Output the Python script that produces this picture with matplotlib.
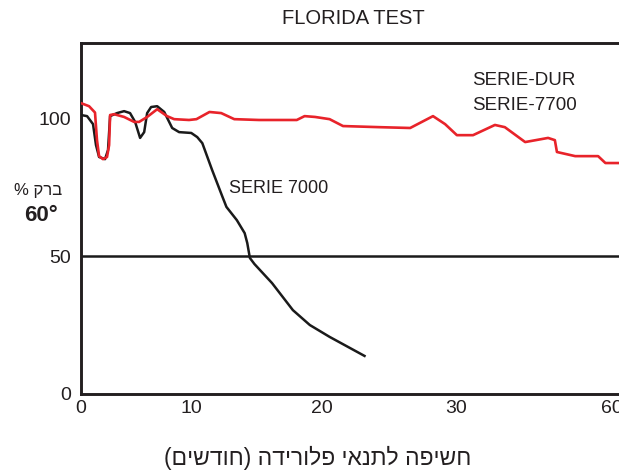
"""
FLORIDA TEST - gloss retention (60°) vs. months of Florida exposure
"""

import numpy as np
import matplotlib
matplotlib.use('Agg')
import matplotlib.pyplot as plt

matplotlib.rcParams['font.family'] = ['Liberation Sans', 'DejaVu Sans']

# x axis of the original is not linear: knots (months) -> drawn position
X_KNOTS = [0, 10, 20, 30, 60, 90]
X_POS = [0, 110, 240, 374, 530, 686]

x_ticks = [0, 10, 20, 30, 60]
y_ticks = [0, 50, 100]

# SERIE-DUR / SERIE-7700 (red)
dur_months = [0, 0.73, 1.27, 1.45, 1.64, 2.0, 2.36, 2.55, 2.64, 3.0, 3.91, 4.82, 5.27,
              6.0, 6.91, 7.8, 8.45, 9.8, 10.4, 11.4, 12.3, 13.3, 15.2, 18.1, 18.7,
              19.5, 20.6, 21.6, 24.3, 26.6, 28.3, 29.2, 30.2, 33.3, 37.5, 39.4, 43.3,
              47.7, 49.0, 49.4, 52.9, 57.3, 58.7, 61.5]
dur_gloss = [105.4, 104.3, 102.0, 92.0, 86.2, 85.1, 85.9, 90.2, 101.1, 101.4, 100.4,
             98.6, 98.6, 100.4, 103.2, 100.7, 99.6, 99.3, 99.6, 102.2, 101.8, 99.6,
             99.3, 99.3, 100.7, 100.4, 99.6, 97.1, 96.7, 96.4, 100.7, 97.8, 93.8, 93.8,
             97.5, 96.7, 91.3, 92.8, 92.0, 87.7, 86.2, 86.2, 83.7, 83.7]

# SERIE 7000 (black)
s7000_months = [0, 0.55, 1.09, 1.36, 1.64, 2.18, 2.45, 2.64, 3.27, 3.91, 4.45, 4.91,
                5.36, 5.73, 6.0, 6.36, 6.91, 7.55, 8.27, 8.9, 10.0, 10.46, 10.85, 11.6,
                12.4, 12.7, 13.5, 14.1, 14.3, 14.5, 14.85, 16.2, 17.8, 19.1, 20.6, 23.2]
s7000_gloss = [101.1, 100.7, 97.8, 90.2, 85.9, 85.1, 88.4, 100.7, 101.8, 102.5, 101.8,
               98.6, 92.8, 94.9, 101.8, 104.0, 104.3, 102.2, 96.4, 94.9, 94.6, 93.1,
               90.9, 81.2, 71.4, 67.8, 63.0, 58.3, 54.7, 49.3, 47.1, 40.2, 30.4, 25.0,
               20.7, 13.8]

# matplotlib draws glyphs left to right, so hebrew goes in visual order
Y_LABEL = '% ' + 'ברק'[::-1]
X_LABEL = 'חשיפה לתנאי פלורידה (חודשים)'[::-1].translate(str.maketrans('()', ')('))


def fwd(x):
    return np.interp(x, X_KNOTS, X_POS)


def inv(p):
    return np.interp(p, X_POS, X_KNOTS)


fig = plt.figure(figsize=(6.19, 4.75), dpi=100)
ax = fig.add_axes([81 / 619, 81 / 475, 539 / 619, 351 / 475])

ax.set_xscale('function', functions=(fwd, inv))
ax.set_xlim(0, 61.5)
ax.set_ylim(0, 127.2)

ax.axhline(50, color='#1a1a1a', linewidth=1.8, zorder=2)

ax.plot(s7000_months, s7000_gloss, color='#1a1a1a', linewidth=1.8, zorder=3,
        solid_joinstyle='round')
ax.plot(dur_months, dur_gloss, color='#e8232a', linewidth=1.9, zorder=4,
        solid_joinstyle='round')

ax.set_xticks(x_ticks)
ax.set_xticklabels([str(t) for t in x_ticks])
ax.set_yticks(y_ticks)
ax.set_yticklabels([str(t) for t in y_ticks])
ax.minorticks_off()
ax.tick_params(axis='both', length=0, labelsize=14, colors='#231f20')
ax.tick_params(axis='x', pad=4)
ax.tick_params(axis='y', pad=7)

for side in ['left', 'top', 'bottom']:
    ax.spines[side].set_linewidth(2.1)
    ax.spines[side].set_color('#231f20')
ax.spines['right'].set_visible(False)

fig.text(353 / 619, 1 - 18 / 475, 'FLORIDA TEST', ha='center', va='center',
         fontsize=14.5, color='#231f20')

ax.text(0.725, 0.893, 'SERIE-DUR', transform=ax.transAxes, fontsize=13.5,
        color='#231f20', ha='left', va='center')
ax.text(0.725, 0.822, 'SERIE-7700', transform=ax.transAxes, fontsize=13.5,
        color='#231f20', ha='left', va='center')
ax.text(0.275, 0.585, 'SERIE 7000', transform=ax.transAxes, fontsize=13,
        color='#231f20', ha='left', va='center')

fig.text(38 / 619, 1 - 190 / 475, Y_LABEL, ha='center', va='center',
         fontsize=12, color='#231f20')
fig.text(41 / 619, 1 - 215 / 475, '60°', ha='center', va='center',
         fontsize=16, fontweight='bold', color='#231f20')

fig.text(318 / 619, 1 - 458 / 475, X_LABEL, ha='center',
         va='center', fontsize=16.5, color='#231f20')

plt.savefig('out.png', dpi=100)
plt.close()
